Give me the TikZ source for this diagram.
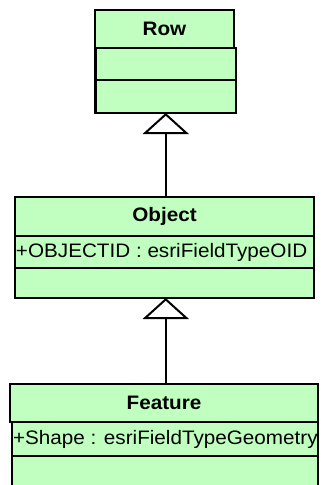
\documentclass[tikz,border=0pt]{standalone}
\usepackage{fontspec}
\setmainfont{Liberation Sans}[FakeStretch=1.06]
\usetikzlibrary{arrows.meta}
\definecolor{classfill}{RGB}{192,255,192}
\tikzset{
  umlpart/.style={draw=black, line width=2.2pt, fill=classfill, rectangle,
    anchor=north west, inner sep=0pt, outer sep=0pt},
  classhead/.style={umlpart, font=\fontsize{19.5}{23}\selectfont\bfseries},
  classattr/.style={umlpart, font=\fontsize{19.5}{23}\selectfont, inner xsep=1pt},
  inherit/.style={line width=2pt, -{Triangle[open, length=21pt, width=46pt]}},
}
\begin{document}
\begin{tikzpicture}[x=1pt,y=-1pt]
  \useasboundingbox (0,0) rectangle (323,485);
  \fill[white] (0,0) rectangle (323,485);
  \clip (0,0) rectangle (323,485);

  % Row
  \node[classhead, minimum width=139pt, minimum height=38pt] (row) at (95,10) {Row};
  \node[umlpart, minimum width=140.5pt, minimum height=32pt] (rowattr) at (95.5,48) {};
  \node[umlpart, minimum width=140.5pt, minimum height=33pt] (rowops) at (95.5,80) {};

  % Object
  \node[classhead, minimum width=299pt, minimum height=39pt] (object) at (15,197) {Object};
  \node[classattr, minimum height=32pt] (objattr) at (15,236)
    {\makebox[297pt][l]{+OBJECTID : esriFieldTypeOID}};
  \node[umlpart, minimum width=299pt, minimum height=30pt] (objops) at (15,268) {};

  % Feature
  \node[classhead, minimum width=308pt, minimum height=38pt] (feature) at (10,384) {Feature};
  \node[classattr, minimum height=34pt] (featattr) at (12,422)
    {\makebox[304pt][l]{+Shape : esriFieldTypeGeometry}};
  \node[umlpart, minimum width=306pt, minimum height=40pt] (featops) at (12,456) {};

  % generalisation links
  \draw[inherit] (rowops.south |- object.north) -- (rowops.south);
  \draw[inherit] (rowops.south |- feature.north) -- (rowops.south |- objops.south);
\end{tikzpicture}
\end{document}
